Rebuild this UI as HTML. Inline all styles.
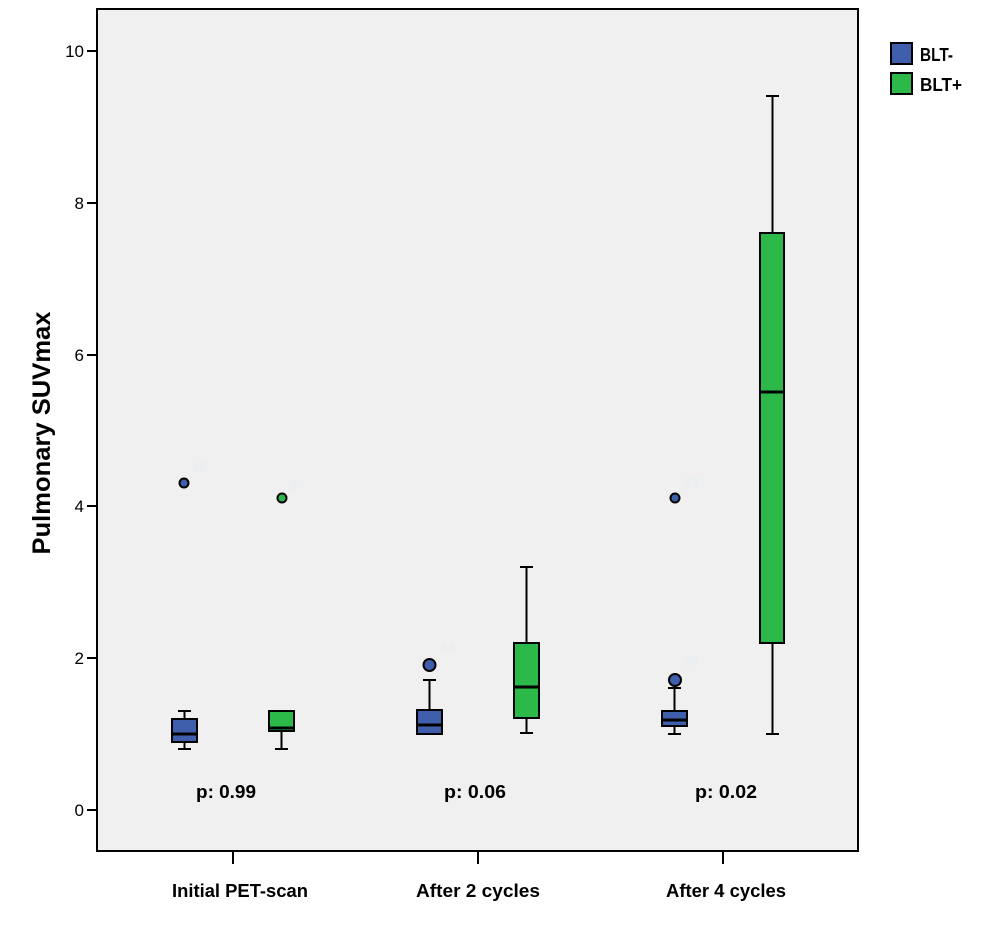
<!DOCTYPE html>
<html><head><meta charset="utf-8"><style>
html,body{margin:0;padding:0;background:#fff;}
svg{display:block;font-family:"Liberation Sans",sans-serif;}
</style></head><body>
<svg width="986" height="929" viewBox="0 0 986 929" xmlns="http://www.w3.org/2000/svg">
<rect x="97" y="9" width="761" height="842" fill="#f0f0f0" stroke="#000" stroke-width="2"/>
<g stroke="#000" stroke-width="2">
<line x1="87" y1="810" x2="97" y2="810"/>
<line x1="87" y1="658" x2="97" y2="658"/>
<line x1="87" y1="506" x2="97" y2="506"/>
<line x1="87" y1="355" x2="97" y2="355"/>
<line x1="87" y1="203" x2="97" y2="203"/>
<line x1="87" y1="51" x2="97" y2="51"/>
<line x1="233" y1="851" x2="233" y2="864"/>
<line x1="478" y1="851" x2="478" y2="864"/>
<line x1="723" y1="851" x2="723" y2="864"/>
</g>
<g font-size="17" text-anchor="end" fill="#000">
<text x="84" y="816">0</text>
<text x="84" y="664">2</text>
<text x="84" y="512">4</text>
<text x="84" y="361">6</text>
<text x="84" y="209">8</text>
<text x="84" y="57">10</text>
</g>
<text transform="translate(50,433) rotate(-90)" text-anchor="middle" font-size="25" font-weight="bold" textLength="243" lengthAdjust="spacingAndGlyphs">Pulmonary SUVmax</text>
<g font-size="18" font-weight="bold" text-anchor="middle">
<text x="240" y="897" textLength="136" lengthAdjust="spacingAndGlyphs">Initial PET-scan</text>
<text x="478" y="897" textLength="124" lengthAdjust="spacingAndGlyphs">After 2 cycles</text>
<text x="726" y="897" textLength="120" lengthAdjust="spacingAndGlyphs">After 4 cycles</text>
<text x="226" y="798" textLength="60" lengthAdjust="spacingAndGlyphs">p: 0.99</text>
<text x="475" y="798" textLength="62" lengthAdjust="spacingAndGlyphs">p: 0.06</text>
<text x="726" y="798" textLength="62" lengthAdjust="spacingAndGlyphs">p: 0.02</text>
</g>
<g stroke="#000" stroke-width="2">
<line x1="184.5" y1="711" x2="184.5" y2="749"/>
<line x1="178" y1="711" x2="191" y2="711"/><line x1="178" y1="749" x2="191" y2="749"/>
<rect x="172" y="719" width="25" height="23" fill="#3f5fad"/>
<line x1="172" y1="734" x2="197" y2="734" stroke-width="3"/>
<line x1="281.5" y1="711" x2="281.5" y2="749"/>
<line x1="275" y1="749" x2="288" y2="749"/>
<rect x="269" y="711" width="25" height="20" fill="#2db84a"/>
<line x1="269" y1="728" x2="294" y2="728" stroke-width="3"/>
<line x1="429.5" y1="680" x2="429.5" y2="734"/>
<line x1="423" y1="680" x2="436" y2="680"/>
<rect x="417" y="710" width="25" height="24" fill="#3f5fad"/>
<line x1="417" y1="725" x2="442" y2="725" stroke-width="3"/>
<line x1="526.5" y1="567" x2="526.5" y2="733"/>
<line x1="520" y1="567" x2="533" y2="567"/><line x1="520" y1="733" x2="533" y2="733"/>
<rect x="514" y="643" width="25" height="75" fill="#2db84a"/>
<line x1="514" y1="687" x2="539" y2="687" stroke-width="3"/>
<line x1="674.5" y1="688" x2="674.5" y2="734"/>
<line x1="668" y1="688" x2="681" y2="688"/><line x1="668" y1="734" x2="681" y2="734"/>
<rect x="662" y="711" width="25" height="15" fill="#3f5fad"/>
<line x1="662" y1="720" x2="687" y2="720" stroke-width="3"/>
<line x1="772.5" y1="96" x2="772.5" y2="734"/>
<line x1="766" y1="96" x2="779" y2="96"/><line x1="766" y1="734" x2="779" y2="734"/>
<rect x="760" y="233" width="24" height="410" fill="#2db84a"/>
<line x1="760" y1="392" x2="784" y2="392" stroke-width="3"/>
<circle cx="184" cy="483" r="4.5" fill="#3f5fad"/>
<circle cx="282" cy="498" r="4.5" fill="#2db84a"/>
<circle cx="429.5" cy="665" r="6" fill="#3f5fad"/>
<circle cx="675" cy="498" r="4.5" fill="#3f5fad"/>
<circle cx="675" cy="680" r="6" fill="#3f5fad"/>
<rect x="891" y="43" width="21" height="21" fill="#3f5fad"/>
<rect x="891" y="73" width="21" height="21" fill="#2db84a"/>
</g>
<g font-size="13" fill="#e4eef4">
<text x="192" y="472">35</text>
<text x="290" y="490">9</text>
<text x="440" y="652">33</text>
<text x="684" y="486">33</text>
<text x="684" y="665">35</text>
</g>
<g font-size="18" font-weight="bold">
<text x="920" y="61" textLength="33" lengthAdjust="spacingAndGlyphs">BLT-</text>
<text x="920" y="91" textLength="42" lengthAdjust="spacingAndGlyphs">BLT+</text>
</g>
</svg>
</body></html>
